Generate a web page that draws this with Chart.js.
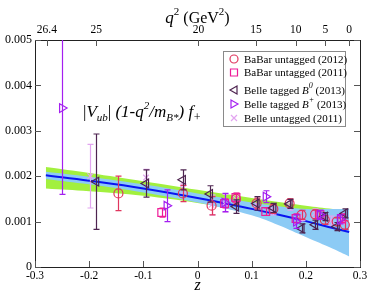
<!DOCTYPE html>
<html>
<head>
<meta charset="utf-8">
<script src="https://cdn.jsdelivr.net/npm/chart.js@4/dist/chart.umd.min.js"></script>
<style>
  html, body { margin: 0; padding: 0; background: #fff; }
</style>
</head>
<body>
<canvas id="c" width="374" height="297"></canvas>
<script>
// fit curve and bands
const fitZ    = [-0.28, -0.2, -0.1, 0, 0.1, 0.15, 0.2, 0.25, 0.28];
const fitY    = [0.00202, 0.0019, 0.00173, 0.00152, 0.00128, 0.00115, 0.00101, 0.00086, 0.00077];
const blueHi  = [0.0021, 0.00199, 0.00182, 0.00162, 0.00142, 0.00134, 0.00128, 0.00128, 0.00128];
const blueLo  = [0.00194, 0.00182, 0.00164, 0.00142, 0.00114, 0.00092, 0.00066, 0.0004, 0.00023];
const greenHi = [0.0022, 0.00207, 0.00189, 0.0017, 0.00152, 0.00143, 0.00135, 0.00128, 0.00125];
const greenLo = [0.00173, 0.00167, 0.00157, 0.00141, 0.00118, 0.00106, 0.00092, 0.0008, 0.00075];

// experimental points
const babar12Z   = [-0.146, -0.027, 0.026, 0.071, 0.109, 0.14, 0.17, 0.192, 0.217, 0.235, 0.257, 0.272];
const babar12Y   = [0.00162, 0.00162, 0.00135, 0.0015, 0.0014, 0.00128, 0.0014, 0.00115, 0.00116, 0.00104, 0.001, 0.00093];
const babar12Err = [0.00038, 0.00018, 0.0002, 0.00012, 0.00012, 0.0001, 0.0001, 0.0001, 0.0001, 0.0001, 0.00008, 0.0001];

const babar11Z   = [-0.066, 0.05, 0.071, 0.126, 0.182, 0.226, 0.266];
const babar11Y   = [0.0012, 0.0014, 0.00153, 0.00122, 0.00107, 0.00115, 0.00107];
const babar11Err = [0.0001, 0.0001, 0.0001, 0.00008, 0.0001, 0.0001, 0.0001];

const belleB0Z   = [-0.187, -0.095, -0.027, 0.023, 0.071, 0.109, 0.14, 0.17, 0.192, 0.217, 0.235, 0.257, 0.272];
const belleB0Y   = [0.00188, 0.00184, 0.00192, 0.00161, 0.00133, 0.0014, 0.0013, 0.00139, 0.00085, 0.00093, 0.00111, 0.00089, 0.00118];
const belleB0Err = [0.00105, 0.0003, 0.00022, 0.00018, 0.00015, 0.00015, 0.0001, 0.0001, 0.0001, 0.0001, 0.00009, 0.00009, 0.0001];

const bellePlZ   = [-0.25, -0.057, 0.05, 0.126, 0.182, 0.226, 0.263];
const bellePlY   = [0.0035, 0.00135, 0.00142, 0.00155, 0.001, 0.00115, 0.00105];
const bellePlErr = [0.0019, 0.00035, 0.0002, 0.00013, 0.00015, 0.0001, 0.0001];

const belleUnZ   = [-0.198, -0.095, -0.027, 0.026, 0.05, 0.071, 0.109, 0.14, 0.17, 0.192, 0.217, 0.247, 0.268];
const belleUnY   = [0.002, 0.00197, 0.00173, 0.00137, 0.0014, 0.0015, 0.00138, 0.00125, 0.00135, 0.00112, 0.00118, 0.00102, 0.00105];
const belleUnErr = [0.0007, 0.00018, 0.0001, 0.00022, 0.0002, 0.0001, 0.0001, 0.0001, 0.0001, 0.0001, 0.0001, 0.0001, 0.0001];

// top axis: q^2 tick labels (GeV^2)
const q2Ticks = [26.4, 25, 20, 15, 10, 5, 0];

// q^2 -> z map for the top axis
const mB = 5.27958, mPi = 0.13957;
const tPlus = (mB + mPi) ** 2, tMinus = (mB - mPi) ** 2;
const t0 = tPlus * (1 - Math.sqrt(1 - tMinus / tPlus));
function zOf(q2) {
  const a = Math.sqrt(tPlus - q2), b = Math.sqrt(tPlus - t0);
  return (a - b) / (a + b);
}

const pts = (xs, ys) => xs.map((x, i) => ({ x: x, y: ys[i] }));
const F = "'Liberation Serif', serif";
Chart.defaults.font.family = F;

const COL = {
  babar12: '#e0365e',
  babar11: '#ee1c98',
  b0: '#4e2450',
  bp: '#a41ff0',
  un: '#e2a4f0'
};

function drawMark(ctx, kind, x, y, color) {
  ctx.save();
  ctx.strokeStyle = color; ctx.lineWidth = 1.2;
  ctx.beginPath();
  if (kind === 'circle') ctx.arc(x, y, 4, 0, Math.PI * 2);
  else if (kind === 'rect') ctx.rect(x - 3.5, y - 3.5, 7, 7);
  else if (kind === 'triL') { ctx.moveTo(x - 4, y); ctx.lineTo(x + 3, y - 4); ctx.lineTo(x + 3, y + 4); ctx.closePath(); }
  else if (kind === 'triR') { ctx.moveTo(x + 4, y); ctx.lineTo(x - 3, y - 4); ctx.lineTo(x - 3, y + 4); ctx.closePath(); }
  else { ctx.moveTo(x - 3, y - 3); ctx.lineTo(x + 3, y + 3); ctx.moveTo(x + 3, y - 3); ctx.lineTo(x - 3, y + 3); }
  ctx.stroke();
  ctx.restore();
}

function rich(ctx, parts, x, y, center) {
  let w = 0;
  parts.forEach(p => { ctx.font = p.f; w += ctx.measureText(p.t).width; });
  let cx = center ? x - w / 2 : x;
  ctx.textAlign = 'left'; ctx.textBaseline = 'alphabetic';
  parts.forEach(p => {
    ctx.font = p.f;
    ctx.fillText(p.t, cx, y + (p.dy || 0));
    cx += ctx.measureText(p.t).width;
  });
}

const deco = {
  id: 'deco',
  afterDatasetDraw(chart, args) {
    const ds = chart.data.datasets[args.index];
    if (!ds.err) return;
    const ctx = chart.ctx, xs = chart.scales.x, ys = chart.scales.y, a = chart.chartArea;
    ctx.save();
    ctx.beginPath(); ctx.rect(a.left, a.top, a.right - a.left, a.bottom - a.top); ctx.clip();
    ctx.strokeStyle = ds.borderColor; ctx.lineWidth = 1.2;
    ds.data.forEach((p, i) => {
      const px = Math.round(xs.getPixelForValue(p.x)) + 0.5;
      const y1 = ys.getPixelForValue(p.y + ds.err[i]);
      const y2 = ys.getPixelForValue(p.y - ds.err[i]);
      ctx.beginPath();
      ctx.moveTo(px, y1); ctx.lineTo(px, y2);
      ctx.moveTo(px - 3, y1); ctx.lineTo(px + 3, y1);
      ctx.moveTo(px - 3, y2); ctx.lineTo(px + 3, y2);
      ctx.stroke();
    });
    ctx.restore();
  },
  afterDraw(chart) {
    const ctx = chart.ctx, a = chart.chartArea, s = chart.scales;
    ctx.save();
    // inward tick marks
    ctx.strokeStyle = '#555'; ctx.lineWidth = 1;
    ctx.beginPath();
    s.x.ticks.forEach(t => { const p = Math.round(s.x.getPixelForValue(t.value)) + 0.5; ctx.moveTo(p, a.bottom); ctx.lineTo(p, a.bottom - 6); });
    s.x2.ticks.forEach(t => { const p = Math.round(s.x2.getPixelForValue(t.value)) + 0.5; ctx.moveTo(p, a.top); ctx.lineTo(p, a.top + 6); });
    s.y.ticks.forEach(t => { const p = Math.round(s.y.getPixelForValue(t.value)) + 0.5; ctx.moveTo(a.left, p); ctx.lineTo(a.left + 6, p); });
    s.y2.ticks.forEach(t => { const p = Math.round(s.y2.getPixelForValue(t.value)) + 0.5; ctx.moveTo(a.right, p); ctx.lineTo(a.right - 6, p); });
    ctx.stroke();

    ctx.fillStyle = '#000';
    // axis titles
    rich(ctx, [
      { t: 'q', f: 'italic 17px ' + F },
      { t: '2', f: '11px ' + F, dy: -8 },
      { t: ' (GeV', f: '16px ' + F },
      { t: '2', f: '11px ' + F, dy: -8 },
      { t: ')', f: '16px ' + F }
    ], (a.left + a.right) / 2, 23, true);
    rich(ctx, [{ t: 'z', f: 'italic 16px ' + F }], (a.left + a.right) / 2, 290, true);

    // formula label
    rich(ctx, [
      { t: '|', f: '17px ' + F },
      { t: 'V', f: 'italic 17px ' + F },
      { t: 'ub', f: 'italic 11px ' + F, dy: 4 },
      { t: '| ', f: '17px ' + F },
      { t: '(1-q', f: 'italic 17px ' + F },
      { t: '2', f: 'italic 11px ' + F, dy: -8 },
      { t: '/m', f: 'italic 17px ' + F },
      { t: 'B*', f: 'italic 11px ' + F, dy: 4 },
      { t: ') f', f: 'italic 17px ' + F },
      { t: '+', f: 'italic 12px ' + F, dy: 4 }
    ], 83, 117, false);

    // legend box
    ctx.fillStyle = '#fff';
    ctx.fillRect(223.5, 51.5, 122, 75);
    ctx.strokeStyle = '#8a8a8a'; ctx.lineWidth = 1;
    ctx.strokeRect(223.5, 51.5, 122, 75);
    const rows = [
      { k: 'circle', c: COL.babar12, y: 59, parts: [{ t: 'BaBar untagged (2012)' }] },
      { k: 'rect', c: COL.babar11, y: 72.5, parts: [{ t: 'BaBar untagged (2011)' }] },
      { k: 'triL', c: COL.b0, y: 90, parts: [{ t: 'Belle tagged ' }, { t: 'B', f: 'italic 11px ' + F }, { t: '0', f: 'italic 8px ' + F, dy: -6 }, { t: ' (2013)' }] },
      { k: 'triR', c: COL.bp, y: 104, parts: [{ t: 'Belle tagged ' }, { t: 'B', f: 'italic 11px ' + F }, { t: '+', f: 'italic 8px ' + F, dy: -6 }, { t: ' (2013)' }] },
      { k: 'cross', c: COL.un, y: 118, parts: [{ t: 'Belle untagged (2011)' }] }
    ];
    rows.forEach(r => {
      drawMark(ctx, r.k, 234, r.y, r.c);
      ctx.fillStyle = '#000';
      rich(ctx, r.parts.map(p => ({ t: p.t, f: p.f || ('11px ' + F), dy: p.dy })), 244, r.y + 3.5, false);
    });
    ctx.restore();
  }
};

const xFont = { family: F, size: 11.5 };
const yFont = { family: F, size: 12 };

new Chart(document.getElementById('c'), {
  type: 'line',
  data: {
    datasets: [
      { label: 'green hi', data: pts(fitZ, greenHi), fill: '+1', backgroundColor: '#a2f03e', borderWidth: 0, pointRadius: 0, tension: 0.4, order: 10 },
      { label: 'green lo', data: pts(fitZ, greenLo), fill: false, borderWidth: 0, pointRadius: 0, tension: 0.4, order: 10 },
      { label: 'blue hi', data: pts(fitZ, blueHi), fill: '+1', backgroundColor: '#8ccbf5', borderWidth: 0, pointRadius: 0, tension: 0.4, order: 9 },
      { label: 'blue lo', data: pts(fitZ, blueLo), fill: false, borderWidth: 0, pointRadius: 0, tension: 0.4, order: 9 },
      { label: 'fit', data: pts(fitZ, fitY), fill: false, borderColor: '#0a14f0', borderWidth: 2, pointRadius: 0, tension: 0.4, order: 8 },
      { type: 'scatter', label: 'Belle untagged (2011)', data: pts(belleUnZ, belleUnY), err: belleUnErr, borderColor: COL.un, backgroundColor: 'rgba(0,0,0,0)', pointStyle: 'crossRot', pointRadius: 4, pointBorderWidth: 1.2, order: 6 },
      { type: 'scatter', label: 'BaBar untagged (2012)', data: pts(babar12Z, babar12Y), err: babar12Err, borderColor: COL.babar12, backgroundColor: 'rgba(0,0,0,0)', pointStyle: 'circle', pointRadius: 4.5, pointBorderWidth: 1.2, order: 5 },
      { type: 'scatter', label: 'BaBar untagged (2011)', data: pts(babar11Z, babar11Y), err: babar11Err, borderColor: COL.babar11, backgroundColor: 'rgba(0,0,0,0)', pointStyle: 'rect', pointRadius: 5.5, pointBorderWidth: 1.2, order: 4 },
      { type: 'scatter', label: 'Belle tagged B0 (2013)', data: pts(belleB0Z, belleB0Y), err: belleB0Err, borderColor: COL.b0, backgroundColor: 'rgba(0,0,0,0)', pointStyle: 'triangle', rotation: -90, pointRadius: 5, pointBorderWidth: 1.2, order: 3 },
      { type: 'scatter', label: 'Belle tagged B+ (2013)', data: pts(bellePlZ, bellePlY), err: bellePlErr, borderColor: COL.bp, backgroundColor: 'rgba(0,0,0,0)', pointStyle: 'triangle', rotation: 90, pointRadius: 5, pointBorderWidth: 1.2, order: 2 }
    ]
  },
  options: {
    responsive: false,
    animation: false,
    devicePixelRatio: 1,
    layout: { padding: 0 },
    plugins: { legend: { display: false }, tooltip: { enabled: false } },
    scales: {
      x: {
        type: 'linear', position: 'bottom', min: -0.3, max: 0.3,
        ticks: { stepSize: 0.1, font: xFont, color: '#000', padding: 2, maxRotation: 0, callback: v => String(+v.toFixed(2)) },
        grid: { drawOnChartArea: false, drawTicks: false },
        border: { color: '#222', width: 1 },
        afterFit: sc => { sc.height = 30; }
      },
      x2: {
        type: 'linear', position: 'top', min: -0.3, max: 0.3,
        afterBuildTicks: sc => { sc.ticks = q2Ticks.map(q => ({ value: zOf(q) })); },
        ticks: { font: xFont, color: '#000', padding: 3, maxRotation: 0, autoSkip: false, callback: (v, i) => String(q2Ticks[i]) },
        grid: { drawOnChartArea: false, drawTicks: false },
        border: { color: '#222', width: 1 },
        afterFit: sc => { sc.height = 40; }
      },
      y: {
        type: 'linear', position: 'left', min: 0, max: 0.005,
        ticks: { stepSize: 0.001, font: yFont, color: '#000', padding: 3, callback: v => String(+v.toFixed(3)) },
        grid: { drawOnChartArea: false, drawTicks: false },
        border: { color: '#222', width: 1 },
        afterFit: sc => { sc.width = 35; }
      },
      y2: {
        type: 'linear', position: 'right', min: 0, max: 0.005,
        ticks: { stepSize: 0.001, display: false },
        grid: { drawOnChartArea: false, drawTicks: false },
        border: { color: '#222', width: 1 },
        afterFit: sc => { sc.width = 14; }
      }
    }
  },
  plugins: [deco]
});
</script>
</body>
</html>
